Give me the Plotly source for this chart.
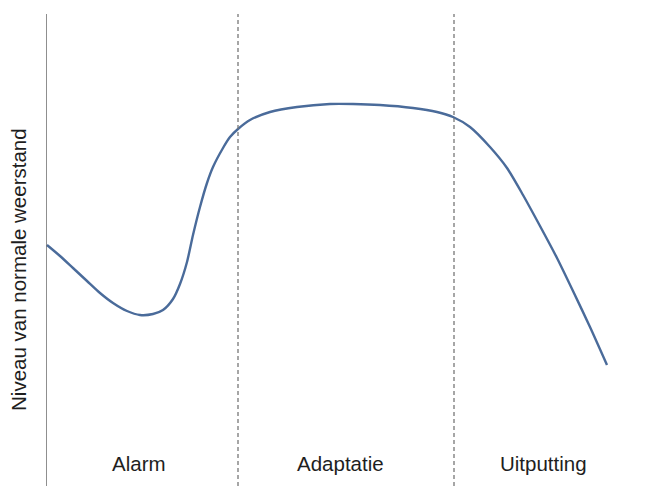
import plotly.graph_objects as go

# Curve: time (arbitrary units) vs. level of normal resistance (arbitrary units)
time = [1, 14, 27, 41, 54, 67, 81, 94, 107, 117, 127, 134, 141, 147, 154, 161, 167, 177, 184, 192,
        204, 224, 251, 284, 307, 334, 367, 391, 407, 424, 444, 461, 477, 494, 511, 527, 544, 561]
level = [241, 230, 218, 205, 193, 183, 175, 171, 172, 176, 187, 202, 224, 251, 279, 303, 319, 338, 349, 357,
         366, 374, 379, 382, 382, 381, 378, 374, 369, 359, 339, 318, 291, 260, 228, 195, 159, 121]

phase_bounds = [192, 408]
phase_labels = ["Alarm", "Adaptatie", "Uitputting"]
label_x = [93, 294, 497]
label_y = 23
y_title = "Niveau van normale weerstand"

FONT = "Liberation Sans, Arial, sans-serif"

fig = go.Figure()
fig.add_trace(go.Scatter(
    x=time, y=level, mode="lines",
    line=dict(color="#4a6b9a", width=2.4, shape="spline", smoothing=0.7),
    hoverinfo="skip", showlegend=False,
))

shapes = [dict(type="line", xref="x", yref="y", x0=0, x1=0, y0=0, y1=472,
               line=dict(color="#444444", width=1.2))]
for b in phase_bounds:
    shapes.append(dict(type="line", xref="x", yref="y", x0=b, x1=b, y0=0, y1=472,
                       line=dict(color="#777777", width=1.3, dash="4px,3px")))

annotations = []
for lab, lx in zip(phase_labels, label_x):
    annotations.append(dict(x=lx, y=label_y, xref="x", yref="y", text=lab, showarrow=False,
                            font=dict(family=FONT, size=20.5, color="#1e1e1e")))
annotations.append(dict(x=-0.0458, y=217, xref="paper", yref="y", xanchor="center", yanchor="middle",
                        text=y_title, textangle=-90, showarrow=False,
                        font=dict(family=FONT, size=20.5, color="#1e1e1e")))

fig.update_layout(
    width=650, height=478,
    margin=dict(l=38, r=0, t=0, b=0),
    paper_bgcolor="white", plot_bgcolor="white",
    xaxis=dict(range=[0, 612], visible=False, fixedrange=True),
    yaxis=dict(range=[0, 478], visible=False, fixedrange=True),
    shapes=shapes, annotations=annotations,
    showlegend=False,
)

fig.write_html("out.html", config={"displayModeBar": False})
